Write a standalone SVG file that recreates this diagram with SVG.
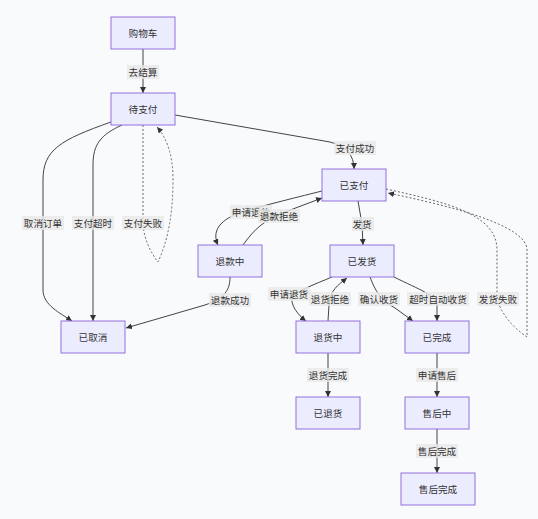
<svg xmlns="http://www.w3.org/2000/svg" width="538" height="519" viewBox="0 0 538 519">
<style>
.node rect{fill:#ECECFF;stroke:#9370DB;stroke-width:1}
text{font-family:"Noto Sans CJK SC","Noto Sans",sans-serif;font-size:9.6px;fill:#333;text-anchor:middle;dominant-baseline:central}
.e{fill:none;stroke:#444;stroke-width:1}
.d{fill:none;stroke:#666;stroke-width:1;stroke-dasharray:2,2}
.lb rect{fill:#e8e8e8;fill-opacity:0.8}
</style>
<defs>
<marker id="arr" viewBox="0 0 10 10" refX="10" refY="5" markerWidth="6" markerHeight="6" orient="auto" markerUnits="userSpaceOnUse"><path d="M0,0 L10,5 L0,10 z" fill="#333"/></marker>
</defs>
<rect width="538" height="519" fill="#f9fafc"/>
<g id="connectors">
<path class="e" d="M143,49 L143,93" marker-end="url(#arr)"/>
<path class="e" d="M175,115 L330,142 Q354,148 354,169" marker-end="url(#arr)"/>
<path class="e" d="M111,122 C60,140 43,150 43,180 L43,290 C43,305 60,313 72,321" marker-end="url(#arr)"/>
<path class="e" d="M122,125 C100,135 93,145 93,165 L93,321" marker-end="url(#arr)"/>
<path class="d" d="M143,125 L143,225 Q145,245 158,262 Q173,230 173,180 Q173,145 157,127" marker-end="url(#arr)"/>
<path class="e" d="M322,191 C290,199 262,206 245,211 C225,217 210,228 218,245" marker-end="url(#arr)"/>
<path class="e" d="M243,245 C255,228 265,220 285,212 L322,198" marker-end="url(#arr)"/>
<path class="e" d="M230,277 C230,290 225,298 205,305 L126,328" marker-end="url(#arr)"/>
<path class="e" d="M358,201 L362,224 L363,245" marker-end="url(#arr)"/>
<path class="d" d="M386,189 C450,203 497,215 497,250 L497,300 Q505,322 527,337 L527,250 C527,225 450,206 388,193" marker-end="url(#arr)"/>
<path class="e" d="M332,277 C315,284 300,290 292,296 C290,305 298,315 306,321" marker-end="url(#arr)"/>
<path class="e" d="M328,321 L329,305 C330,290 338,285 347,278" marker-end="url(#arr)"/>
<path class="e" d="M370,277 C375,290 380,300 395,308 L413,321" marker-end="url(#arr)"/>
<path class="e" d="M394,277 C420,290 436,295 437,305 L437,321" marker-end="url(#arr)"/>
<path class="e" d="M328,353 L328,397" marker-end="url(#arr)"/>
<path class="e" d="M437,353 L437,397" marker-end="url(#arr)"/>
<path class="e" d="M437,429 L437,473" marker-end="url(#arr)"/>
</g>
<g id="edge-labels">
<g class="lb"><rect x="127" y="65" width="32" height="14"/><text x="143" y="72">去结算</text></g>
<g class="lb"><rect x="334" y="141" width="42" height="14"/><text x="355" y="148">支付成功</text></g>
<g class="lb"><rect x="22" y="216" width="42" height="14"/><text x="43" y="223">取消订单</text></g>
<g class="lb"><rect x="72" y="216" width="42" height="14"/><text x="93" y="223">支付超时</text></g>
<g class="lb"><rect x="122" y="216" width="42" height="14"/><text x="143" y="223">支付失败</text></g>
<g class="lb"><rect x="230" y="205" width="42" height="14"/><text x="251" y="212">申请退款</text></g>
<g class="lb"><rect x="258" y="209" width="42" height="14"/><text x="279" y="216">退款拒绝</text></g>
<g class="lb"><rect x="209" y="293" width="42" height="14"/><text x="230" y="300">退款成功</text></g>
<g class="lb"><rect x="352" y="217" width="22" height="14"/><text x="362" y="224">发货</text></g>
<g class="lb"><rect x="268" y="287" width="42" height="14"/><text x="289" y="294">申请退货</text></g>
<g class="lb"><rect x="309" y="292" width="42" height="14"/><text x="330" y="299">退货拒绝</text></g>
<g class="lb"><rect x="358" y="292" width="42" height="14"/><text x="379" y="299">确认收货</text></g>
<g class="lb"><rect x="407" y="292" width="62" height="14"/><text x="438" y="299">超时自动收货</text></g>
<g class="lb"><rect x="477" y="292" width="42" height="14"/><text x="498" y="299">发货失败</text></g>
<g class="lb"><rect x="307" y="368" width="42" height="14"/><text x="328" y="375">退货完成</text></g>
<g class="lb"><rect x="416" y="368" width="42" height="14"/><text x="437" y="375">申请售后</text></g>
<g class="lb"><rect x="416" y="444" width="42" height="14"/><text x="437" y="451">售后完成</text></g>
</g>
<g id="n-cart" class="node"><rect x="111" y="17" width="64" height="32"/><text x="143" y="33">购物车</text></g>
<g id="n-pending" class="node"><rect x="111" y="93" width="64" height="32"/><text x="143" y="109">待支付</text></g>
<g id="n-paid" class="node"><rect x="322" y="169" width="64" height="32"/><text x="354" y="185">已支付</text></g>
<g id="n-refunding" class="node"><rect x="198" y="245" width="64" height="32"/><text x="230" y="261">退款中</text></g>
<g id="n-shipped" class="node"><rect x="330" y="245" width="64" height="32"/><text x="362" y="261">已发货</text></g>
<g id="n-cancelled" class="node"><rect x="61" y="321" width="64" height="32"/><text x="93" y="337">已取消</text></g>
<g id="n-returning" class="node"><rect x="296" y="321" width="64" height="32"/><text x="328" y="337">退货中</text></g>
<g id="n-completed" class="node"><rect x="405" y="321" width="64" height="32"/><text x="437" y="337">已完成</text></g>
<g id="n-returned" class="node"><rect x="296" y="397" width="64" height="32"/><text x="328" y="413">已退货</text></g>
<g id="n-aftersale" class="node"><rect x="405" y="397" width="64" height="32"/><text x="437" y="413">售后中</text></g>
<g id="n-aftersale-done" class="node"><rect x="401" y="473" width="74" height="32"/><text x="438" y="489">售后完成</text></g>
</svg>
